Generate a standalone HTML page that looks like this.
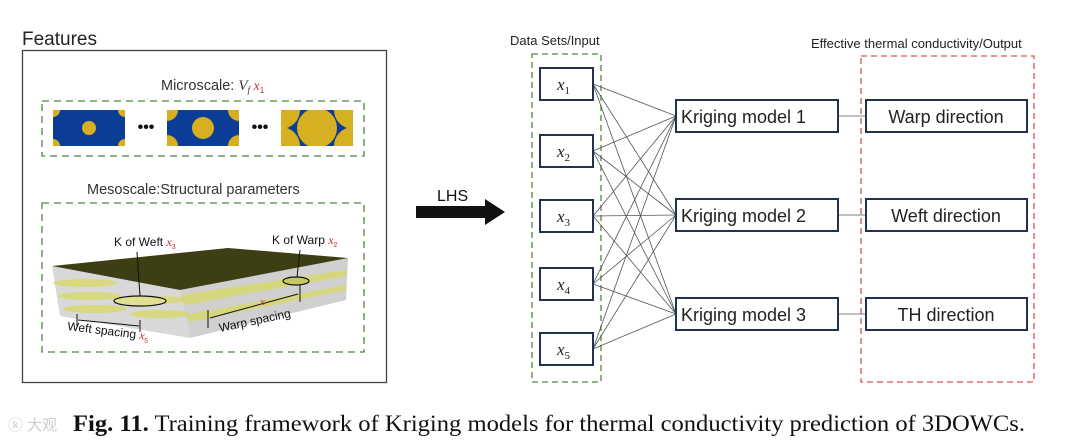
<!DOCTYPE html>
<html><head><meta charset="utf-8"><style>
body{margin:0;background:#fff;width:1080px;height:447px;overflow:hidden}
svg{display:block}
.s{font-family:"Liberation Sans",sans-serif}
.i{font-family:"Liberation Serif",serif;font-style:italic}
</style></head><body>
<svg width="1080" height="447" viewBox="0 0 1080 447" xmlns="http://www.w3.org/2000/svg">
<text x="22" y="45" class="s" font-size="19" fill="#222">Features</text>
<rect x="22.5" y="50.5" width="364" height="332" fill="none" stroke="#444" stroke-width="1.3"/>
<text x="161" y="90" class="s" font-size="14.5" fill="#333">Microscale: <tspan class="i" font-size="15">V</tspan><tspan class="i" font-size="9" dy="3">f</tspan><tspan class="i" font-size="14" fill="#b33" dy="-3"> x</tspan><tspan font-size="8" fill="#b33" dy="3">1</tspan></text>
<rect x="42" y="101" width="322" height="55" fill="none" stroke="#4a8a3a" stroke-width="1.3" stroke-dasharray="7,5"/>
<defs>
<clipPath id="c1"><rect x="53" y="110" width="72" height="36"/></clipPath>
<clipPath id="c2"><rect x="167" y="110" width="72" height="36"/></clipPath>
<clipPath id="c3"><rect x="281" y="110" width="72" height="36"/></clipPath>
</defs>
<g clip-path="url(#c1)"><rect x="53" y="110" width="72" height="36" fill="#0b3d96"/>
<circle cx="89" cy="128" r="7" fill="#d7b021"/><circle cx="53" cy="110" r="7" fill="#d7b021"/><circle cx="125" cy="110" r="7" fill="#d7b021"/><circle cx="53" cy="146" r="7" fill="#d7b021"/><circle cx="125" cy="146" r="7" fill="#d7b021"/></g>
<g clip-path="url(#c2)"><rect x="167" y="110" width="72" height="36" fill="#0b3d96"/>
<circle cx="203" cy="128" r="11" fill="#d7b021"/><circle cx="167" cy="110" r="11" fill="#d7b021"/><circle cx="239" cy="110" r="11" fill="#d7b021"/><circle cx="167" cy="146" r="11" fill="#d7b021"/><circle cx="239" cy="146" r="11" fill="#d7b021"/></g>
<g clip-path="url(#c3)"><rect x="281" y="110" width="72" height="36" fill="#0b3d96"/>
<circle cx="317" cy="128" r="20" fill="#d7b021"/><circle cx="281" cy="110" r="19" fill="#d7b021"/><circle cx="353" cy="110" r="19" fill="#d7b021"/><circle cx="281" cy="146" r="19" fill="#d7b021"/><circle cx="353" cy="146" r="19" fill="#d7b021"/></g>
<text x="146" y="132" class="s" font-size="16" font-weight="bold" text-anchor="middle" fill="#111">•••</text>
<text x="260" y="132" class="s" font-size="16" font-weight="bold" text-anchor="middle" fill="#111">•••</text>
<text x="87" y="194" class="s" font-size="14.5" fill="#333">Mesoscale:Structural parameters</text>
<rect x="42" y="203" width="322" height="149" fill="none" stroke="#4a8a3a" stroke-width="1.3" stroke-dasharray="7,5"/>
<polygon points="52,266 180,290 190,338 60,316" fill="#d8d8d8"/>
<polygon points="180,290 348,258 346,300 190,338" fill="#d0d0d0"/>
<polygon points="52,266 228,248 348,258 180,290" fill="#3e3e14"/>
<g fill="#d8d870" opacity="0.85">
<ellipse cx="85" cy="283" rx="32" ry="4"/><ellipse cx="90" cy="296" rx="32" ry="4"/><ellipse cx="95" cy="309" rx="32" ry="4"/>
<ellipse cx="160" cy="314" rx="30" ry="4"/><ellipse cx="155" cy="300" rx="30" ry="4"/>
<polygon points="180,295 346,270 346,276 185,305"/><polygon points="185,315 346,285 346,290 190,322"/>
</g>
<ellipse cx="140" cy="301" rx="26" ry="5" fill="#e0e090" stroke="#111" stroke-width="1.2"/>
<ellipse cx="296" cy="281" rx="13" ry="4" fill="#c8c860" stroke="#111" stroke-width="1.2"/>
<line x1="140" y1="296" x2="137" y2="252" stroke="#111"/>
<line x1="297" y1="277" x2="300" y2="250" stroke="#111"/>
<line x1="300" y1="285" x2="300" y2="302" stroke="#111"/>
<text x="114" y="246" class="s" font-size="12" fill="#111">K of Weft <tspan class="i" fill="#b33">x</tspan><tspan font-size="7" fill="#b33" dy="3">3</tspan></text>
<text x="272" y="244" class="s" font-size="12" fill="#111">K of Warp <tspan class="i" fill="#b33">x</tspan><tspan font-size="7" fill="#b33" dy="3">2</tspan></text>
<line x1="77" y1="314" x2="77" y2="326" stroke="#111"/><line x1="140" y1="320" x2="140" y2="332" stroke="#111"/>
<line x1="78" y1="320" x2="139" y2="326" stroke="#111"/>
<line x1="208" y1="310" x2="208" y2="328" stroke="#111"/>
<line x1="210" y1="318" x2="298" y2="294" stroke="#111"/>
<text x="260" y="305" class="i" font-size="11" fill="#b33">x</text>
<text x="67" y="330" class="s" font-size="12" fill="#111" transform="rotate(7 67 330)">Weft spacing <tspan class="i" fill="#b33">x</tspan><tspan font-size="7" fill="#b33" dy="3">5</tspan></text>
<text x="220" y="332" class="s" font-size="12" fill="#111" transform="rotate(-12 220 332)">Warp spacing</text>
<text x="437" y="201" class="s" font-size="16" fill="#111">LHS</text>
<polygon points="416,206 485,206 485,199 505,212 485,225 485,218 416,218" fill="#111"/>
<text x="510" y="45" class="s" font-size="13" fill="#222">Data Sets/Input</text>
<text x="811" y="48" class="s" font-size="13" fill="#222">Effective thermal conductivity/Output</text>
<rect x="532" y="54" width="69" height="328" fill="none" stroke="#4a8a3a" stroke-width="1.3" stroke-dasharray="6,4"/>
<rect x="861" y="56" width="173" height="326" fill="none" stroke="#d9534f" stroke-width="1.3" stroke-dasharray="6,4"/>
<g stroke="#555" stroke-width="0.8">
<line x1="593" y1="84" x2="676" y2="116"/><line x1="593" y1="84" x2="676" y2="215"/><line x1="593" y1="84" x2="676" y2="314"/>
<line x1="593" y1="151" x2="676" y2="116"/><line x1="593" y1="151" x2="676" y2="215"/><line x1="593" y1="151" x2="676" y2="314"/>
<line x1="593" y1="216" x2="676" y2="116"/><line x1="593" y1="216" x2="676" y2="215"/><line x1="593" y1="216" x2="676" y2="314"/>
<line x1="593" y1="284" x2="676" y2="116"/><line x1="593" y1="284" x2="676" y2="215"/><line x1="593" y1="284" x2="676" y2="314"/>
<line x1="593" y1="349" x2="676" y2="116"/><line x1="593" y1="349" x2="676" y2="215"/><line x1="593" y1="349" x2="676" y2="314"/>
<line x1="838" y1="116" x2="866" y2="116"/><line x1="838" y1="215" x2="866" y2="215"/><line x1="838" y1="314" x2="866" y2="314"/>
</g>
<g fill="#fff" stroke="#1f3250" stroke-width="2">
<rect x="540" y="68" width="53" height="32"/><rect x="540" y="135" width="53" height="32"/><rect x="540" y="200" width="53" height="32"/><rect x="540" y="268" width="53" height="32"/><rect x="540" y="333" width="53" height="32"/>
<rect x="676" y="100" width="162" height="32"/><rect x="676" y="199" width="162" height="32"/><rect x="676" y="298" width="162" height="32"/>
<rect x="866" y="100" width="161" height="32"/><rect x="866" y="199" width="161" height="32"/><rect x="866" y="298" width="161" height="32"/>
</g>
<g font-family="Liberation Serif,serif" font-size="17" fill="#222">
<text x="557" y="90"><tspan font-style="italic">x</tspan><tspan font-size="11" dy="4">1</tspan></text>
<text x="557" y="157"><tspan font-style="italic">x</tspan><tspan font-size="11" dy="4">2</tspan></text>
<text x="557" y="222"><tspan font-style="italic">x</tspan><tspan font-size="11" dy="4">3</tspan></text>
<text x="557" y="290"><tspan font-style="italic">x</tspan><tspan font-size="11" dy="4">4</tspan></text>
<text x="557" y="355"><tspan font-style="italic">x</tspan><tspan font-size="11" dy="4">5</tspan></text>
</g>
<g class="s" font-size="18" fill="#222">
<text x="681" y="123">Kriging model 1</text>
<text x="681" y="222">Kriging model 2</text>
<text x="681" y="321">Kriging model 3</text>
<text x="946" y="123" text-anchor="middle">Warp direction</text>
<text x="946" y="222" text-anchor="middle">Weft direction</text>
<text x="946" y="321" text-anchor="middle">TH direction</text>
</g>
<text x="73" y="431" font-family="Liberation Serif,serif" font-size="23" fill="#111" textLength="952" lengthAdjust="spacingAndGlyphs"><tspan font-weight="bold">Fig. 11.</tspan>  Training framework of Kriging models for thermal conductivity prediction of 3DOWCs.</text>
<text x="8" y="430" class="s" font-size="15" fill="#ccc">ⓚ 大观</text>
</svg>
</body></html>
